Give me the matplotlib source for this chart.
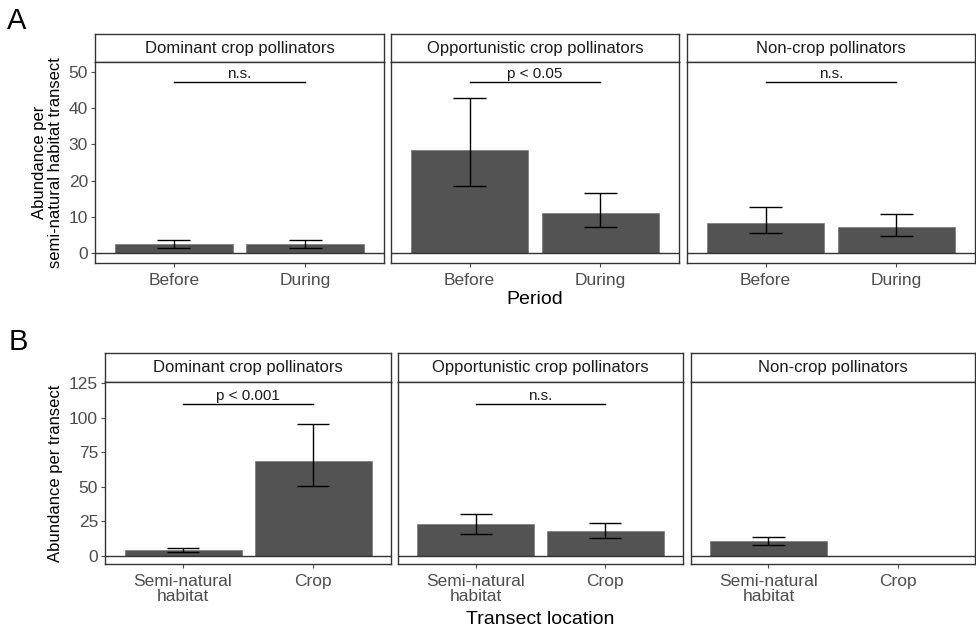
import numpy as np
import matplotlib.pyplot as plt

plt.rcParams["font.family"] = ["Liberation Sans", "DejaVu Sans"]

# ------------------------------------------------------------
# data
# ------------------------------------------------------------
groups = ["Dominant crop pollinators", "Opportunistic crop pollinators", "Non-crop pollinators"]

period_labels = ["Before", "During"]
period_mean = [[2.6, 2.5], [28.4, 11.0], [8.4, 7.2]]
period_low = [[1.5, 1.5], [18.6, 7.4], [5.7, 4.8]]
period_high = [[3.6, 3.8], [42.7, 16.7], [12.7, 10.9]]
period_sig = ["n.s.", "p < 0.05", "n.s."]
period_sig_y = [47.2, 47.2, 47.2]

location_labels = ["Semi-natural\nhabitat", "Crop"]
location_mean = [[4.3, 69.0], [22.7, 17.9], [10.4, np.nan]]
location_low = [[2.7, 50.4], [16.1, 12.8], [7.7, np.nan]]
location_high = [[5.6, 95.3], [30.2, 23.9], [13.8, np.nan]]
location_sig = ["p < 0.001", "n.s.", None]
location_sig_y = [109.8, 109.8, None]

W, H = 976, 630
BAR = "#535353"
FRAME = "#333333"
TXT = "#4d4d4d"

fig = plt.figure(figsize=(W / 100, H / 100), dpi=100)


def px_axes(x0, y0, x1, y1):
    # pixel box (top-left origin) -> figure axes
    return fig.add_axes([x0 / W, 1 - y1 / H, (x1 - x0) / W, (y1 - y0) / H])


def draw_row(panels_x, strip_top, panel_top, panel_bottom, labels, means, lows, highs,
             sigs, sig_ys, ylim, yticks):
    axes = []
    for i, (x0, x1) in enumerate(panels_x):
        # strip
        sax = px_axes(x0, strip_top, x1, panel_top)
        sax.set_xticks([])
        sax.set_yticks([])
        for sp in sax.spines.values():
            sp.set_color(FRAME)
            sp.set_linewidth(1.0)
        sax.text(0.5, 0.5, groups[i], ha="center", va="center", fontsize=12,
                 color="#1a1a1a", transform=sax.transAxes)

        ax = px_axes(x0, panel_top, x1, panel_bottom)
        pos = np.arange(1, len(labels) + 1)
        m = np.array(means[i], dtype=float)
        lo = np.array(lows[i], dtype=float)
        hi = np.array(highs[i], dtype=float)
        ok = ~np.isnan(m)
        ax.bar(pos[ok], m[ok], width=0.9, color=BAR, edgecolor="#6a6a6a",
               linewidth=0.4, zorder=2)
        ax.vlines(pos[ok], lo[ok], hi[ok], color="black", linewidth=1.0, zorder=3)
        ax.hlines(lo[ok], pos[ok] - 0.125, pos[ok] + 0.125, color="black", linewidth=1.0, zorder=3)
        ax.hlines(hi[ok], pos[ok] - 0.125, pos[ok] + 0.125, color="black", linewidth=1.0, zorder=3)
        ax.axhline(0, color=FRAME, linewidth=1.0, zorder=4)

        if sigs[i] is not None:
            ax.plot([1, 2], [sig_ys[i], sig_ys[i]], color="black", linewidth=1.0)
            ax.annotate(sigs[i], (1.5, sig_ys[i]), xytext=(0, 1), textcoords="offset points",
                        ha="center", va="bottom", fontsize=11, color="#1a1a1a")

        ax.set_xlim(0.4, 2.6)
        ax.set_ylim(*ylim)
        ax.set_xticks(pos)
        ax.set_xticklabels(labels, fontsize=12.5, color=TXT, linespacing=1.05)
        ax.tick_params(axis="x", length=3, width=0.8, color=TXT, pad=4)
        if i == 0:
            ax.set_yticks(yticks)
            ax.set_yticklabels([str(t) for t in yticks], fontsize=12.5, color=TXT)
            ax.tick_params(axis="y", length=3, width=0.8, color=TXT, pad=2)
        else:
            ax.set_yticks([])
        for sp in ax.spines.values():
            sp.set_color(FRAME)
            sp.set_linewidth(1.0)
        axes.append(ax)
    return axes


# ------------------------------------------------------------
# A: period
# ------------------------------------------------------------
axA = draw_row([(95, 384), (391, 679), (687, 975)], 34, 62, 263,
               period_labels, period_mean, period_low, period_high,
               period_sig, period_sig_y, (-2.64, 52.7), [0, 10, 20, 30, 40, 50])
axA[0].set_ylabel("Abundance per\nsemi-natural habitat transect", fontsize=12,
                  color="black", labelpad=4, linespacing=1.1)
fig.text(535 / W, 1 - 299 / H, "Period", ha="center", va="center", fontsize=14)
fig.text(7 / W, 1 - 21 / H, "A", ha="left", va="center", fontsize=21)

# ------------------------------------------------------------
# B: transect location
# ------------------------------------------------------------
axB = draw_row([(105, 391), (398, 683), (691, 975)], 353, 382, 564,
               location_labels, location_mean, location_low, location_high,
               location_sig, location_sig_y, (-6.0, 125.9), [0, 25, 50, 75, 100, 125])
axB[0].set_ylabel("Abundance per transect", fontsize=12, color="black", labelpad=4)
fig.text(540 / W, 1 - 620 / H, "Transect location", ha="center", va="center", fontsize=14)
fig.text(9 / W, 1 - 342 / H, "B", ha="left", va="center", fontsize=21)

fig.savefig("out.png", dpi=100)
